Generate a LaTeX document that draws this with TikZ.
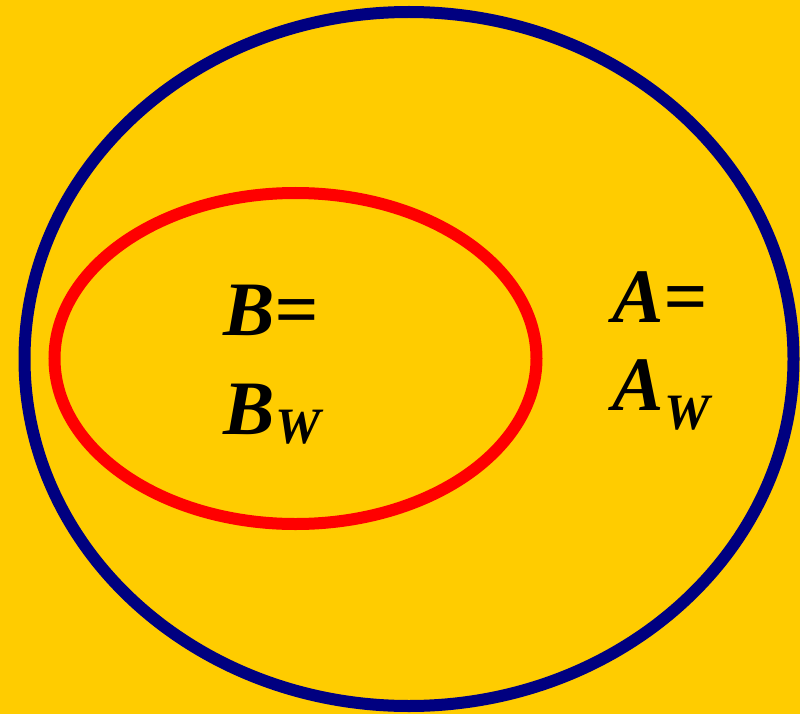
\documentclass[tikz,border=0pt]{standalone}
\usepackage{fontspec}
\setmainfont{Liberation Serif}
\definecolor{bgyellow}{HTML}{FFCC00}
\definecolor{ringblue}{HTML}{000080}
\definecolor{ringred}{HTML}{FF0000}
\begin{document}
\begin{tikzpicture}[x=1pt,y=-1pt,
  lbl/.style={anchor=base west,inner sep=0pt,font=\fontsize{77}{80}\selectfont\bfseries\itshape},
  sub/.style={anchor=base west,inner sep=0pt,font=\fontsize{51}{54}\selectfont\bfseries\itshape}]
\fill[bgyellow] (0,0) rectangle (800,714);
\useasboundingbox (0,0) rectangle (800,714);
\draw[ringblue,line width=12pt] (409,359) ellipse [x radius=384.5, y radius=347];
\draw[ringred,line width=12pt] (295.5,358.5) ellipse [x radius=241, y radius=165.5];
\node[lbl] (b1) at (223,335) {B=};
\node[lbl] (b2) at (223,434) {B};
\node[sub] (bw) at ([xshift=1pt]b2.base east) [yshift=-9pt] {W};
\node[lbl] (a1) at (612,322) {A=};
\node[lbl] (a2) at (612,410) {A};
\node[sub] (aw) at ([xshift=1pt]a2.base east) [yshift=-19pt] {W};
\end{tikzpicture}
\end{document}
